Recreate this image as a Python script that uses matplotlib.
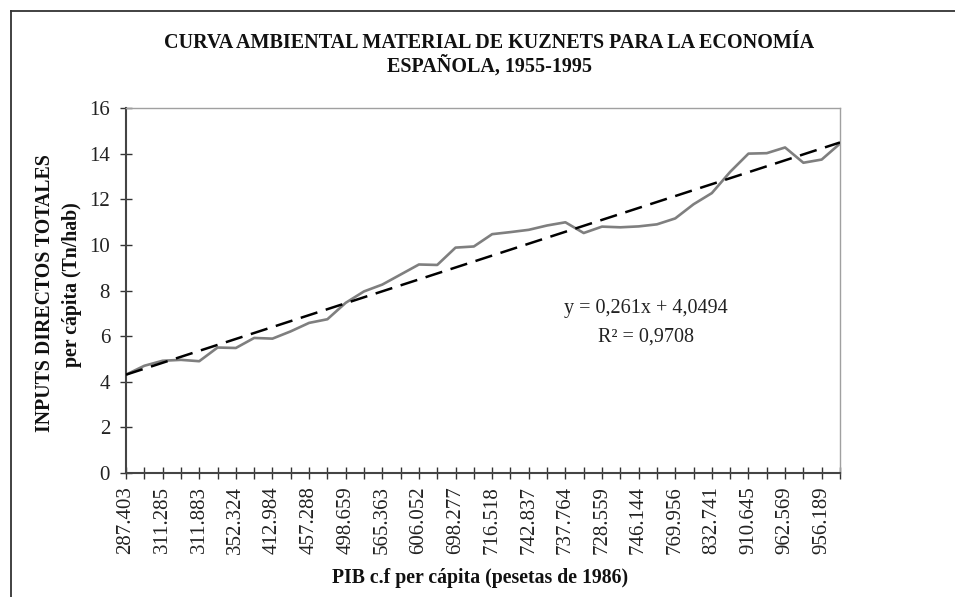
import numpy as np
import matplotlib
matplotlib.use("Agg")
import matplotlib.pyplot as plt
from matplotlib.lines import Line2D

plt.rcParams['font.family'] = ['Liberation Serif', 'DejaVu Serif']

# inputs directos totales per capita (Tn/hab), 1955-1994
inputs_pc = [4.31, 4.70, 4.92, 4.96, 4.90, 5.50, 5.48, 5.92, 5.89, 6.21,
             6.58, 6.74, 7.46, 7.96, 8.26, 8.70, 9.14, 9.12, 9.88, 9.93,
             10.47, 10.56, 10.66, 10.85, 10.99, 10.52, 10.80, 10.77, 10.81, 10.90,
             11.16, 11.78, 12.27, 13.20, 14.00, 14.02, 14.27, 13.60, 13.74, 14.44]

# tick labels shown (every second year), PIB c.f per capita
pib_labels = ["287.403", "311.285", "311.883", "352.324", "412.984",
              "457.288", "498.659", "565.363", "606.052", "698.277",
              "716.518", "742.837", "737.764", "728.559", "746.144",
              "769.956", "832.741", "910.645", "962.569", "956.189"]

trend_slope = 0.261
trend_intercept = 4.0494
r2 = 0.9708

n = len(inputs_pc)
xs = np.arange(n)

fig = plt.figure(figsize=(9.55, 5.97), dpi=100)
ax = fig.add_axes([126 / 955, 1 - 473 / 597, 714 / 955, 365 / 597])

ax.plot(xs, inputs_pc, color='#7f7f7f', lw=1.9, solid_joinstyle='round',
        solid_capstyle='round', zorder=2)
trend = trend_slope * (xs + 1) + trend_intercept
ax.plot(xs, trend, color='black', lw=1.8, ls=(0, (7, 3.5)), zorder=3)

ax.set_xlim(0, n - 1)
ax.set_ylim(0, 16)
ax.set_yticks(range(0, 17, 2))
ax.set_xticks(xs, minor=True)
ax.set_xticks(xs[::2])
ax.set_xticklabels(pib_labels, rotation=90)

ax.tick_params(axis='both', which='both', direction='inout', length=9,
               width=1.0, color='#333333', labelsize=15, labelcolor='#222222')
ax.tick_params(axis='x', which='minor', labelbottom=False)
ax.tick_params(axis='x', pad=5)
ax.tick_params(axis='y', pad=7)

for side in ['left', 'bottom']:
    ax.spines[side].set_color('#444444')
    ax.spines[side].set_linewidth(1.5)
for side in ['top', 'right']:
    ax.spines[side].set_color('#a0a0a0')
    ax.spines[side].set_linewidth(1.0)

ax.text(0.728, 0.452, "y = 0,261x + 4,0494", transform=ax.transAxes,
        ha='center', va='center', fontsize=14.5, color='#222222')
ax.text(0.728, 0.372, "R² = 0,9708", transform=ax.transAxes,
        ha='center', va='center', fontsize=14.5, color='#222222')

fig.text(489 / 955, 1 - 43 / 597,
         "CURVA AMBIENTAL MATERIAL DE KUZNETS PARA LA ECONOMÍA",
         ha='center', va='center', fontsize=14.5, fontweight='bold', color='#111111')
fig.text(489 / 955, 1 - 66 / 597, "ESPAÑOLA, 1955-1995",
         ha='center', va='center', fontsize=14.5, fontweight='bold', color='#111111')

fig.text(480 / 955, 1 - 578 / 597, "PIB c.f per cápita (pesetas de 1986)",
         ha='center', va='center', fontsize=14.2, fontweight='bold', color='#111111')
fig.text(45 / 955, 1 - 293 / 597, "INPUTS DIRECTOS TOTALES",
         ha='center', va='center', rotation=90, fontsize=14.3, fontweight='bold',
         color='#111111')
fig.text(72 / 955, 1 - 285 / 597, "per cápita (Tn/hab)",
         ha='center', va='center', rotation=90, fontsize=14.3, fontweight='bold',
         color='#111111')

# outer chart frame (cut at right and bottom)
fig.add_artist(Line2D([10.5 / 955, 10.5 / 955], [0, 1 - 10.5 / 597],
                      transform=fig.transFigure, color='#333333', lw=1.3))
fig.add_artist(Line2D([10.5 / 955, 1], [1 - 10.5 / 597, 1 - 10.5 / 597],
                      transform=fig.transFigure, color='#333333', lw=1.3))

fig.savefig("out.png", dpi=100)
